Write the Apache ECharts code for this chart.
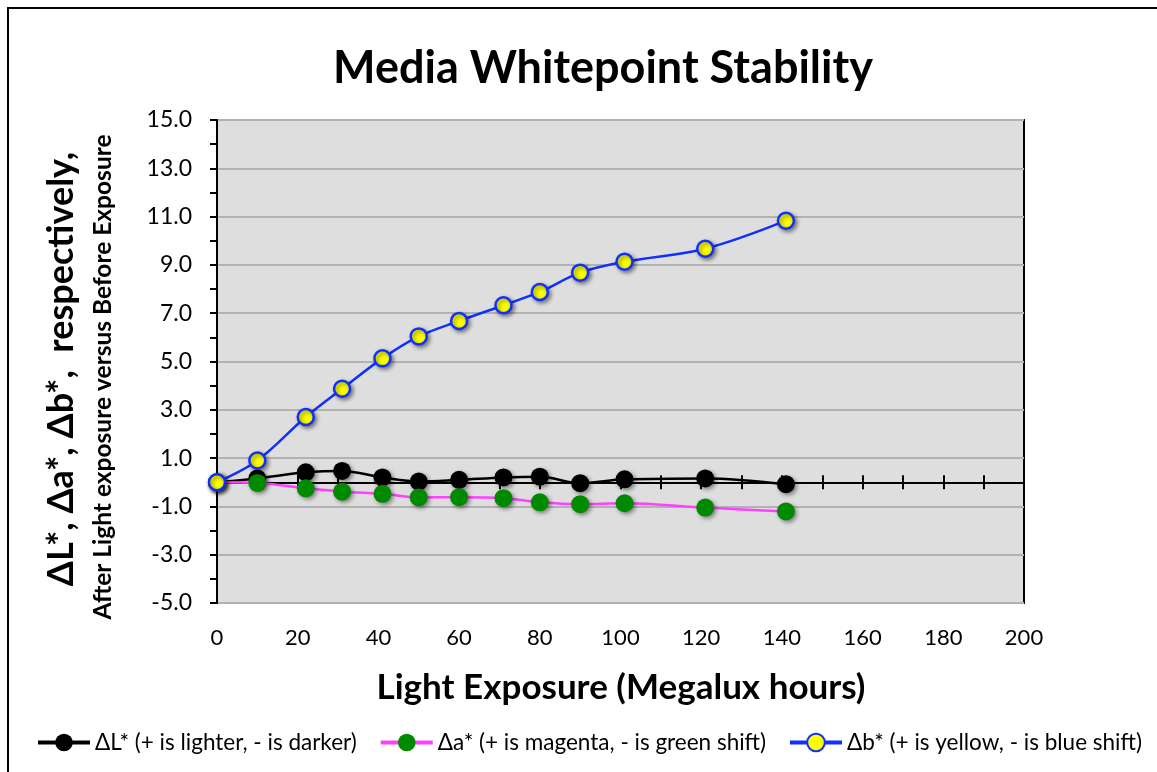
<!DOCTYPE html>
<html><head><meta charset="utf-8">
<script src="https://cdn.jsdelivr.net/npm/echarts@6/dist/echarts.min.js"></script>
<style>html,body{margin:0;padding:0;background:#fff}#c{width:1157px;height:772px}</style>
</head><body><div id="c"></div>
<script>
const exposure = [0, 10, 22, 31, 41, 50, 60, 71, 80, 90, 101, 121, 141];
const dL = [0.0, 0.16, 0.41, 0.47, 0.20, 0.03, 0.10, 0.20, 0.23, -0.04, 0.12, 0.16, -0.08];
const da = [0.0, -0.03, -0.25, -0.39, -0.48, -0.63, -0.62, -0.66, -0.83, -0.91, -0.87, -1.05, -1.21];
const db = [0.0, 0.90, 2.70, 3.87, 5.13, 6.04, 6.68, 7.33, 7.88, 8.68, 9.13, 9.67, 10.83];
const seriesNames = ['ΔL* (+ is lighter, - is darker)', 'Δa* (+ is magenta, - is green shift)', 'Δb* (+ is yellow, - is blue shift)'];
const titleText = 'Media Whitepoint Stability';
const xTitle = 'Light Exposure (Megalux hours)';
const yTitle1 = 'ΔL*, Δa*, Δb*,  respectively,';
const yTitle2 = 'After Light exposure versus Before Exposure';

const FONT = 'Lato';
const pair = (xs, ys) => xs.map((x, i) => [x, ys[i]]);
const shadow = {shadowBlur: 4, shadowColor: 'rgba(0,0,0,0.45)', shadowOffsetX: 2, shadowOffsetY: 2};
const gridBox = {left: 217, right: 133, top: 120, bottom: 169};

const chart = echarts.init(document.getElementById('c'));
chart.setOption({
  animation: false,
  backgroundColor: '#fff',
  legend: {
    top: 726, left: 31, itemGap: 22, itemWidth: 52, itemHeight: 22,
    lineStyle: {width: 4},
    itemStyle: {shadowBlur: 0, shadowOffsetX: 0, shadowOffsetY: 0},
    textStyle: {fontFamily: FONT, fontSize: 22.5, color: '#000'},
    data: seriesNames
  },
  grid: [
    Object.assign({show: true, backgroundColor: '#DEDEDE', borderColor: '#000', borderWidth: 2}, gridBox),
    Object.assign({show: false}, gridBox)
  ],
  xAxis: [
    {type: 'value', gridIndex: 0, position: 'bottom', min: 0, max: 200, interval: 20,
     axisLine: {show: false, onZero: false}, axisTick: {show: false}, splitLine: {show: false},
     axisLabel: {margin: 24, fontFamily: FONT, fontSize: 22, color: '#000'}},
    {type: 'value', gridIndex: 0, position: 'top', min: 0, max: 200, interval: 10,
     axisLine: {show: true, onZero: true, lineStyle: {color: '#000', width: 2}},
     axisTick: {show: true, length: 7, lineStyle: {color: '#000', width: 2}},
     axisLabel: {show: false}, splitLine: {show: false}},
    {type: 'value', gridIndex: 1, position: 'bottom', min: 0, max: 200, interval: 10,
     axisLine: {show: false, onZero: true},
     axisTick: {show: true, length: 7, lineStyle: {color: '#000', width: 2}},
     axisLabel: {show: false}, splitLine: {show: false}}
  ],
  yAxis: [
    {type: 'value', gridIndex: 0, min: -5, max: 15, interval: 2,
     axisLine: {show: true, lineStyle: {color: '#000', width: 2}},
     axisTick: {show: true, length: 7, lineStyle: {color: '#000', width: 2}},
     minorTick: {show: true, splitNumber: 2, length: 7, lineStyle: {color: '#000', width: 2}},
     splitLine: {show: true, lineStyle: {color: '#B2B2B2', width: 2}},
     axisLabel: {margin: 25, fontFamily: FONT, fontSize: 23, color: '#000', formatter: v => v.toFixed(1)}},
    {type: 'value', gridIndex: 1, min: -5, max: 15, interval: 2, show: false}
  ],
  graphic: [
    {type: 'rect', shape: {x: 8, y: 8, width: 1160, height: 780}, style: {fill: 'none', stroke: '#000', lineWidth: 2}, silent: true, z: -10},
    {type: 'text', x: 603, y: 68, style: {text: titleText, font: 'bold 45px ' + FONT, fill: '#000', textAlign: 'center', textVerticalAlign: 'middle'}},
    {type: 'text', x: 621, y: 688, style: {text: xTitle, font: 'bold 35px ' + FONT, fill: '#000', textAlign: 'center', textVerticalAlign: 'middle'}},
    {type: 'text', x: 61, y: 369, rotation: Math.PI / 2, style: {text: yTitle1, font: 'bold 36px ' + FONT, fill: '#000', textAlign: 'center', textVerticalAlign: 'middle'}},
    {type: 'text', x: 103, y: 377, rotation: Math.PI / 2, style: {text: yTitle2, font: 'bold 24.5px ' + FONT, fill: '#000', textAlign: 'center', textVerticalAlign: 'middle'}}
  ],
  series: [
    {name: seriesNames[0], type: 'line', xAxisIndex: 0, yAxisIndex: 0, data: pair(exposure, dL), smooth: 0.35,
     symbol: 'circle', symbolSize: 18, lineStyle: {color: '#000', width: 2.5},
     itemStyle: Object.assign({color: '#000'}, shadow), z: 3},
    {name: seriesNames[1], type: 'line', xAxisIndex: 0, yAxisIndex: 0, data: pair(exposure, da), smooth: 0.35,
     symbol: 'circle', symbolSize: 18, lineStyle: {color: '#FF40FF', width: 2.5},
     itemStyle: Object.assign({color: '#008A00'}, shadow), z: 4},
    {name: seriesNames[2], type: 'line', xAxisIndex: 0, yAxisIndex: 0, data: pair(exposure, db), smooth: 0.35,
     symbol: 'circle', symbolSize: 16, lineStyle: {color: '#1030FF', width: 2.5},
     itemStyle: Object.assign({color: '#FFFF00', borderColor: '#1030FF', borderWidth: 2.5}, shadow), z: 5}
  ]
});
</script></body></html>
